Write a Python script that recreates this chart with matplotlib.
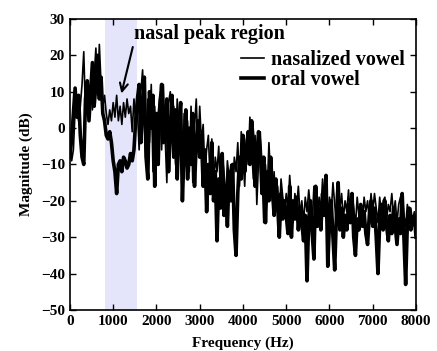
import matplotlib.pyplot as plt
import numpy as np

plt.rcParams['font.family'] = ['Liberation Serif', 'DejaVu Serif']
plt.rcParams['font.weight'] = 'bold'

# frequency grid, one value every 40 Hz
freq = np.arange(0, 8001, 40)

# nasalized vowel spectrum (dB)
nasalized = [
    -3, -9, -6, 5, 9, 2, 6, 12, 21, 4, 12, 8, 11, 5, 14, 22, 9, 23, 12, 6, 9, 4, 1, 5, 2,
    7, 3, 9, 2, 6, 1, 7, 3, 8, 4, 6, -1, 8, 2, 5, -6, 10, 16, 2, -10, 8, -4, 12, -12, 6,
    -8, 4, 9, -6, 12, -2, -15, 7, 10, -4, 6, -10, 8, -3, 3, -18, 4, -8, 2, -12, 6, -15, 0, 8, -6,
    6, -4, 1, -12, -6, -2, -14, -3, -16, -8, -12, -5, -18, -7, -12, -20, -9, -14, -10, -18, -8, -12, -4, -16, -1,
    -8, -16, -3, -10, 3, -6, -14, -2, -21, -9, -1, -12, -26, -10, -18, -4, -14, -20, -12, -22, -16, -24, -14, -19, -23,
    -18, -22, -13, -20, -26, -18, -22, -16, -24, -20, -26, -19, -23, -17, -22, -26, -16, -21, -25, -19, -23, -14, -20, -17, -24,
    -19, -23, -15, -21, -26, -15, -22, -18, -25, -20, -23, -17, -24, -18, -22, -27, -19, -24, -21, -26, -19, -23, -20, -25, -18,
    -23, -18, -22, -26, -19, -24, -20, -19, -25, -21, -23, -18, -24, -20, -26, -21, -19, -18, -24, -27, -21, -25, -22, -26, -23,
    -27,
]

# oral vowel spectrum (dB)
oral = [
    -8, -3, 4, 11, 3, 9, -2, -8, -10, 8, 13, 2, 10, 18, 6, 12, 20, 8, 14, 4, 2, -2, -3, -1, -4,
    -9, -12, -18, -10, -9, -12, -8, -9, -11, -10, -7, -9, -6, 2, 8, 12, -4, 6, 14, -8, -14, 10, 0, 9, -16,
    4, -10, 6, 12, -4, 2, 8, -12, 0, 9, -8, 5, -14, 2, 7, -20, -6, 5, -14, 0, -10, 4, -16, -4, 2,
    -8, -2, -16, -6, -23, -10, -18, -4, -20, -12, -31, -14, -22, -7, -24, -16, -27, -12, -20, -10, -28, -35, -18, -8, -14,
    -2, -12, -6, -1, -10, 2, -4, -16, -8, -1, -6, -18, -8, -26, -12, -20, -8, -17, -24, -14, -21, -30, -18, -25, -20,
    -24, -29, -16, -30, -20, -25, -19, -28, -22, -26, -31, -24, -42, -25, -20, -29, -36, -16, -27, -22, -28, -18, -24, -13, -38,
    -26, -20, -30, -39, -24, -15, -28, -22, -30, -24, -28, -21, -26, -18, -30, -35, -25, -28, -21, -27, -23, -29, -32, -24, -20,
    -27, -22, -30, -40, -26, -21, -28, -20, -27, -31, -24, -29, -22, -27, -32, -25, -29, -18, -30, -43, -26, -22, -28, -25, -24,
    -30,
]

x_ticks = list(range(0, 8001, 1000))
y_ticks = list(range(-50, 31, 10))

fig = plt.figure(figsize=(4.37, 3.51), dpi=100)
ax = fig.add_axes([0.160, 0.117, 0.792, 0.829])

ax.axvspan(800, 1550, color='#e4e5fb', lw=0, zorder=0)
ax.plot(freq, nasalized, color='black', lw=1.2, label='nasalized vowel')
ax.plot(freq, oral, color='black', lw=2.6, label='oral vowel')

ax.set_xlim(0, 8000)
ax.set_ylim(-50, 30)
ax.set_xticks(x_ticks)
ax.set_yticks(y_ticks)
ax.tick_params(direction='in', top=True, right=True, labelsize=11, length=4, width=1)
for lab in ax.get_xticklabels() + ax.get_yticklabels():
    lab.set_fontweight('bold')
for sp in ax.spines.values():
    sp.set_linewidth(1.2)

ax.set_xlabel('Frequency (Hz)', fontsize=11, fontweight='bold', labelpad=6.5)
ax.set_ylabel('Magnitude (dB)', fontsize=11, fontweight='bold', labelpad=6)

ax.annotate('nasal peak region', xy=(1190, 9.5), xytext=(1480, 25.8),
            ha='left', va='center', fontsize=14.5, fontweight='bold',
            arrowprops=dict(arrowstyle='->', lw=1.5, color='black',
                            relpos=(0, 0.1), shrinkA=0, shrinkB=0))

ax.legend(loc='upper right', bbox_to_anchor=(0.991, 0.921), frameon=False,
          handlelength=1.15, handletextpad=0.35, labelspacing=0.0,
          borderaxespad=0.0, prop={'weight': 'bold', 'size': 14.5})

fig.savefig('out.png', dpi=100)
